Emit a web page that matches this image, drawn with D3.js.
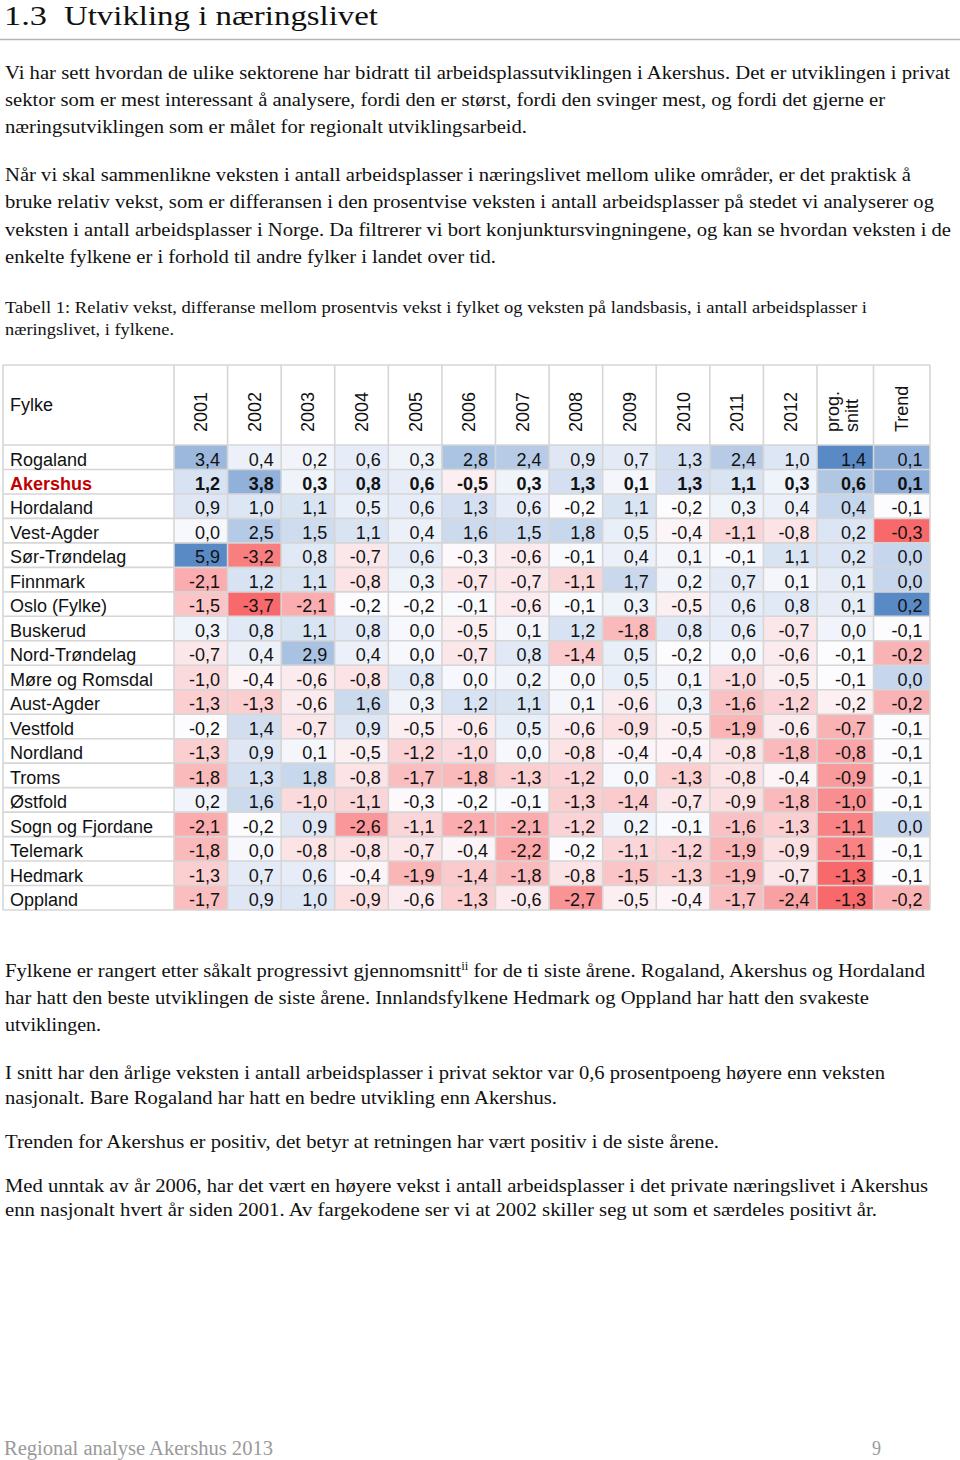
<!DOCTYPE html>
<html><head><meta charset="utf-8">
<script src="https://cdn.jsdelivr.net/npm/d3@7"></script>
<style>body{margin:0;background:#fff} svg{display:block}</style>
</head><body><svg id="c" width="960" height="1460"></svg>
<script>
// ---------- DATA ----------
const fylker = ["Rogaland","Akershus","Hordaland","Vest-Agder","Sør-Trøndelag","Finnmark","Oslo (Fylke)","Buskerud","Nord-Trøndelag","Møre og Romsdal","Aust-Agder","Vestfold","Nordland","Troms","Østfold","Sogn og Fjordane","Telemark","Hedmark","Oppland"];
const years = ["2001","2002","2003","2004","2005","2006","2007","2008","2009","2010","2011","2012"];
// relative growth per fylke (rows) and year (columns)
const vekst = [
  [ 3.4, 0.4, 0.2, 0.6, 0.3, 2.8, 2.4, 0.9, 0.7, 1.3, 2.4, 1.0],
  [ 1.2, 3.8, 0.3, 0.8, 0.6,-0.5, 0.3, 1.3, 0.1, 1.3, 1.1, 0.3],
  [ 0.9, 1.0, 1.1, 0.5, 0.6, 1.3, 0.6,-0.2, 1.1,-0.2, 0.3, 0.4],
  [ 0.0, 2.5, 1.5, 1.1, 0.4, 1.6, 1.5, 1.8, 0.5,-0.4,-1.1,-0.8],
  [ 5.9,-3.2, 0.8,-0.7, 0.6,-0.3,-0.6,-0.1, 0.4, 0.1,-0.1, 1.1],
  [-2.1, 1.2, 1.1,-0.8, 0.3,-0.7,-0.7,-1.1, 1.7, 0.2, 0.7, 0.1],
  [-1.5,-3.7,-2.1,-0.2,-0.2,-0.1,-0.6,-0.1, 0.3,-0.5, 0.6, 0.8],
  [ 0.3, 0.8, 1.1, 0.8, 0.0,-0.5, 0.1, 1.2,-1.8, 0.8, 0.6,-0.7],
  [-0.7, 0.4, 2.9, 0.4, 0.0,-0.7, 0.8,-1.4, 0.5,-0.2, 0.0,-0.6],
  [-1.0,-0.4,-0.6,-0.8, 0.8, 0.0, 0.2, 0.0, 0.5, 0.1,-1.0,-0.5],
  [-1.3,-1.3,-0.6, 1.6, 0.3, 1.2, 1.1, 0.1,-0.6, 0.3,-1.6,-1.2],
  [-0.2, 1.4,-0.7, 0.9,-0.5,-0.6, 0.5,-0.6,-0.9,-0.5,-1.9,-0.6],
  [-1.3, 0.9, 0.1,-0.5,-1.2,-1.0, 0.0,-0.8,-0.4,-0.4,-0.8,-1.8],
  [-1.8, 1.3, 1.8,-0.8,-1.7,-1.8,-1.3,-1.2, 0.0,-1.3,-0.8,-0.4],
  [ 0.2, 1.6,-1.0,-1.1,-0.3,-0.2,-0.1,-1.3,-1.4,-0.7,-0.9,-1.8],
  [-2.1,-0.2, 0.9,-2.6,-1.1,-2.1,-2.1,-1.2, 0.2,-0.1,-1.6,-1.3],
  [-1.8, 0.0,-0.8,-0.8,-0.7,-0.4,-2.2,-0.2,-1.1,-1.2,-1.9,-0.9],
  [-1.3, 0.7, 0.6,-0.4,-1.9,-1.4,-1.8,-0.8,-1.5,-1.3,-1.9,-0.7],
  [-1.7, 0.9, 1.0,-0.9,-0.6,-1.3,-0.6,-2.7,-0.5,-0.4,-1.7,-2.4]
];
const progSnitt = [1.4,0.6,0.4,0.2,0.2,0.1,0.1,0.0,-0.1,-0.1,-0.2,-0.7,-0.8,-0.9,-1.0,-1.1,-1.1,-1.3,-1.3];
const trend     = [0.1,0.1,-0.1,-0.3,0.0,0.0,0.2,-0.1,-0.2,0.0,-0.2,-0.1,-0.1,-0.1,-0.1,0.0,-0.1,-0.1,-0.2];
const extraKeys = ["prog","trend"];
const extraLabels = {prog: ["prog.","snitt"], trend: ["Trend"]};
const highlight = "Akershus";

// ---------- SETUP ----------
const svg = d3.select("#c");
svg.append("rect").attr("width",960).attr("height",1460).attr("fill","#fff");
const serif = "'Liberation Serif','Times New Roman',serif";
const sans = "'Liberation Sans',Arial,sans-serif";

function tline(x, y, size, len, parts, color) {
  const t = svg.append("text").attr("x", x).attr("y", y)
    .attr("font-family", serif).attr("font-size", size).attr("fill", color || "#111");
  if (len) t.attr("textLength", len).attr("lengthAdjust", "spacingAndGlyphs");
  (Array.isArray(parts) ? parts : [parts]).forEach(p => {
    if (typeof p === "string") t.append("tspan").text(p);
    else t.append("tspan").attr("baseline-shift", "super").attr("font-size", size * 0.62).text(p.sup);
  });
  return t;
}

// heading
tline(4, 25, 28, 43, "1.3");
tline(64, 25, 28, 314, "Utvikling i næringslivet");
svg.append("line").attr("x1",0).attr("x2",960).attr("y1",39.5).attr("y2",39.5)
  .attr("stroke","#b5b5b5").attr("stroke-width",1.5);

const bs = 19.5;
tline(5, 79, bs, 945, "Vi har sett hvordan de ulike sektorene har bidratt til arbeidsplassutviklingen i Akershus. Det er utviklingen i privat");
tline(5, 106, bs, 880, "sektor som er mest interessant å analysere, fordi den er størst, fordi den svinger mest, og fordi det gjerne er");
tline(5, 133, bs, 522, "næringsutviklingen som er målet for regionalt utviklingsarbeid.");

tline(5, 181, bs, 906, "Når vi skal sammenlikne veksten i antall arbeidsplasser i næringslivet mellom ulike områder, er det praktisk å");
tline(5, 208, bs, 929, "bruke relativ vekst, som er differansen i den prosentvise veksten i antall arbeidsplasser på stedet vi analyserer og");
tline(5, 236, bs, 946, "veksten i antall arbeidsplasser i Norge. Da filtrerer vi bort konjunktursvingningene, og kan se hvordan veksten i de");
tline(5, 263, bs, 491, "enkelte fylkene er i forhold til andre fylker i landet over tid.");

tline(5, 313, 17, 862, "Tabell 1: Relativ vekst, differanse mellom prosentvis vekst i fylket og veksten på landsbasis, i antall arbeidsplasser i");
tline(5, 335, 17, 169, "næringslivet, i fylkene.");

tline(5, 977, bs, 920, ["Fylkene er rangert etter såkalt progressivt gjennomsnitt", {sup:"ii"}, " for de ti siste årene. Rogaland, Akershus og Hordaland"]);
tline(5, 1004, bs, 864, "har hatt den beste utviklingen de siste årene. Innlandsfylkene Hedmark og Oppland har hatt den svakeste");
tline(5, 1031, bs, 96, "utviklingen.");
tline(5, 1079, bs, 880, "I snitt har den årlige veksten i antall arbeidsplasser i privat sektor var 0,6 prosentpoeng høyere enn veksten");
tline(5, 1104, bs, 552, "nasjonalt. Bare Rogaland har hatt en bedre utvikling enn Akershus.");
tline(5, 1148, bs, 714, "Trenden for Akershus er positiv, det betyr at retningen har vært positiv i de siste årene.");
tline(5, 1192, bs, 923, "Med unntak av år 2006, har det vært en høyere vekst i antall arbeidsplasser i det private næringslivet i Akershus");
tline(5, 1216, bs, 872, "enn nasjonalt hvert år siden 2001. Av fargekodene ser vi at 2002 skiller seg ut som et særdeles positivt år.");

tline(4, 1455, 20, 269, "Regional analyse Akershus 2013", "#9a9a9a");
tline(872, 1455, 20, 9, "9", "#9a9a9a");

// ---------- TABLE ----------
const tableLeft = 3, tableRight = 930, headTop = 365, bodyTop = 445, bodyBottom = 910;
const x = d3.scaleBand().domain(years).range([174, 817]);
const xe = d3.scaleBand().domain(extraKeys).range([817, tableRight]);
const y = d3.scaleBand().domain(fylker).range([bodyTop, bodyBottom]);

const RED = "#F8696B", WHITE = "#FCFCFF", BLUE = "#5A8AC6";
function excelScale(vals) {
  const s = vals.slice().sort(d3.ascending);
  return d3.scaleLinear().domain([s[0], d3.quantile(s, 0.5), s[s.length-1]])
    .range([RED, WHITE, BLUE]).interpolate(d3.interpolateRgb).clamp(true);
}
const cYear = excelScale(vekst.flat());
const cProg = excelScale(progSnitt);
const cTrend = excelScale(trend);
const fmt = v => v.toFixed(1).replace(".", ",");

const cells = [];
fylker.forEach((f, i) => {
  years.forEach((yr, j) => cells.push({f, x0: x(yr), w: x.bandwidth(), v: vekst[i][j], c: cYear(vekst[i][j])}));
  cells.push({f, x0: xe("prog"), w: xe.bandwidth(), v: progSnitt[i], c: cProg(progSnitt[i])});
  cells.push({f, x0: xe("trend"), w: xe.bandwidth(), v: trend[i], c: cTrend(trend[i])});
});

const g = svg.append("g");
g.selectAll("rect.cell").data(cells).join("rect").attr("class","cell")
  .attr("x", d => d.x0).attr("y", d => y(d.f)).attr("width", d => d.w).attr("height", y.bandwidth())
  .attr("fill", d => d.c);

// grid lines
const gridColor = "#d6d6d6";
const vx = [tableLeft, ...years.map(k => x(k)), ...extraKeys.map(k => xe(k)), tableRight];
g.selectAll("line.v").data(vx).join("line").attr("class","v")
  .attr("x1", d => d).attr("x2", d => d).attr("y1", headTop).attr("y2", bodyBottom)
  .attr("stroke", gridColor).attr("stroke-width", 1.6);
const hy = [headTop, bodyTop, ...fylker.slice(1).map(f => y(f)), bodyBottom];
g.selectAll("line.h").data(hy).join("line").attr("class","h")
  .attr("x1", tableLeft).attr("x2", tableRight).attr("y1", d => d).attr("y2", d => d)
  .attr("stroke", gridColor).attr("stroke-width", 1.6);

// header
g.append("text").attr("x", 10).attr("y", 411).attr("font-family", sans).attr("font-size", 18)
  .attr("fill", "#111").text("Fylke");
g.selectAll("text.yr").data(years).join("text").attr("class","yr")
  .attr("transform", d => `translate(${x(d) + x.bandwidth()/2 + 6.5},432) rotate(-90)`)
  .attr("font-family", sans).attr("font-size", 18).attr("fill", "#111").text(d => d);
extraKeys.forEach(k => {
  const lines = extraLabels[k];
  const cx = xe(k) + xe.bandwidth()/2;
  lines.forEach((ln, i) => {
    const off = lines.length === 1 ? 6.5 : (i === 0 ? -6 : 13);
    g.append("text").attr("transform", `translate(${cx + off},432) rotate(-90)`)
      .attr("font-family", sans).attr("font-size", 18).attr("fill", "#111").text(ln);
  });
});

// row labels
g.selectAll("text.lab").data(fylker).join("text").attr("class","lab")
  .attr("x", 10).attr("y", d => y(d) + 20.5)
  .attr("font-family", sans).attr("font-size", 18)
  .attr("font-weight", d => d === highlight ? "bold" : "normal")
  .attr("fill", d => d === highlight ? "#C00000" : "#111").text(d => d);

// cell values
g.selectAll("text.val").data(cells).join("text").attr("class","val")
  .attr("x", d => d.x0 + d.w - 7.5).attr("y", d => y(d.f) + 20.5)
  .attr("text-anchor", "end").attr("font-family", sans).attr("font-size", 18)
  .attr("font-weight", d => d.f === highlight ? "bold" : "normal")
  .attr("fill", "#111").text(d => fmt(d.v));
</script></body></html>
